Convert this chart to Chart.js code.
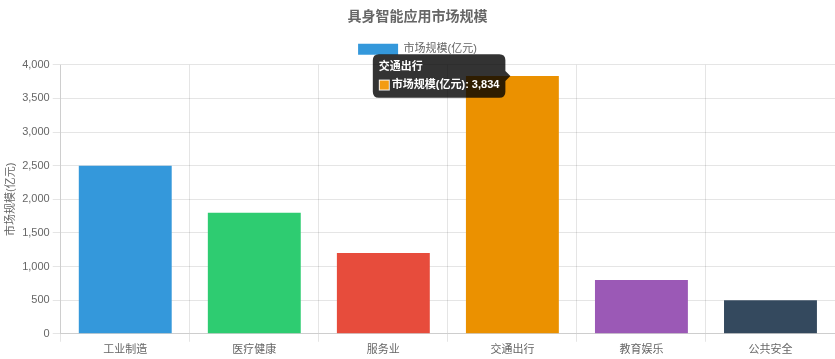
<!DOCTYPE html>
<html>
<head>
<meta charset="utf-8">
<script src="https://cdn.jsdelivr.net/npm/chart.js@4/dist/chart.umd.min.js"></script>
<style>
html,body{margin:0;padding:0;background:#fff;}
#wrap{width:835px;height:359px;position:relative;}
</style>
</head>
<body>
<div id="wrap"><canvas id="c"></canvas></div>
<script>
const categories = ['工业制造', '医疗健康', '服务业', '交通出行', '教育娱乐', '公共安全'];
const marketSize = [2500, 1800, 1200, 3834, 800, 500];
const seriesLabel = '市场规模(亿元)';
const chartTitle = '具身智能应用市场规模';
const barColors = ['#3498db', '#2ecc71', '#e74c3c', '#f39c12', '#9b59b6', '#34495e'];

Chart.defaults.font.family = '"Helvetica Neue", Helvetica, Arial, "Noto Sans CJK SC", sans-serif';
Chart.defaults.font.size = 11;
Chart.defaults.color = '#666';

const chart = new Chart(document.getElementById('c'), {
  type: 'bar',
  data: {
    labels: categories,
    datasets: [{
      label: seriesLabel,
      data: marketSize,
      backgroundColor: barColors
    }]
  },
  options: {
    responsive: true,
    maintainAspectRatio: false,
    animation: false,
    plugins: {
      title: {
        display: true,
        text: chartTitle,
        font: { size: 14, weight: 'bold' },
        padding: { top: 9, bottom: 10 }
      },
      legend: {
        display: true,
        labels: { padding: 8 }
      },
      tooltip: {
        titleFont: { size: 11 },
        bodyFont: { size: 11, weight: 'bold' },
        titleMarginBottom: 5
      }
    },
    scales: {
      y: {
        beginAtZero: true,
        max: 4000,
        ticks: { stepSize: 500, padding: 3 },
        title: { display: true, text: seriesLabel, padding: { top: 4, bottom: 2 } }
      },
      x: {
        ticks: { padding: 2 }
      }
    }
  }
});
const idx = 3;
chart.setActiveElements([{ datasetIndex: 0, index: idx }]);
chart.tooltip.setActiveElements([{ datasetIndex: 0, index: idx }], { x: 0, y: 0 });
chart.update();
</script>
</body>
</html>
